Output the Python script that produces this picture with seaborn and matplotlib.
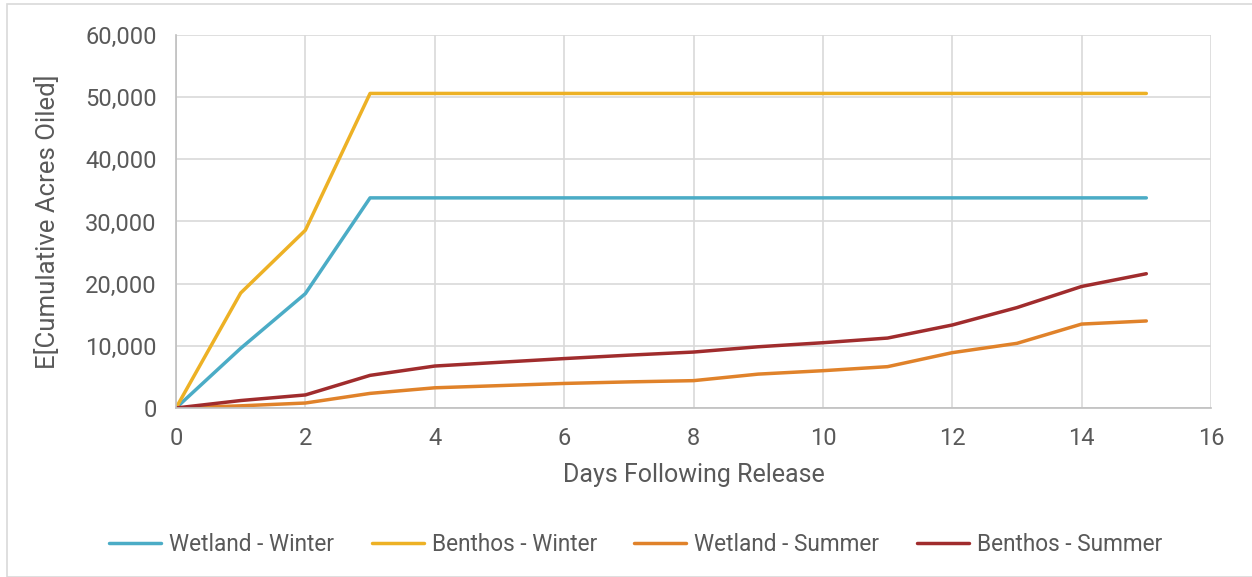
import pandas as pd
import seaborn as sns
import matplotlib.pyplot as plt
from matplotlib.patches import Rectangle

# Data
days = list(range(16))
wetland_winter = [0, 9600, 18400, 33800, 33800, 33800, 33800, 33800,
                  33800, 33800, 33800, 33800, 33800, 33800, 33800, 33800]
benthos_winter = [0, 18500, 28600, 50600, 50600, 50600, 50600, 50600,
                  50600, 50600, 50600, 50600, 50600, 50600, 50600, 50600]
wetland_summer = [0, 350, 800, 2350, 3250, 3600, 3950, 4200,
                  4400, 5450, 6000, 6650, 8900, 10400, 13500, 14000]
benthos_summer = [0, 1200, 2100, 5250, 6750, 7350, 7950, 8500,
                  9000, 9850, 10500, 11250, 13350, 16150, 19550, 21600]

series_names = ["Wetland - Winter", "Benthos - Winter", "Wetland - Summer", "Benthos - Summer"]
series_values = [wetland_winter, benthos_winter, wetland_summer, benthos_summer]
colors = ["#4BACC6", "#EDB125", "#E0822A", "#A02C2D"]

rows = []
for name, vals in zip(series_names, series_values):
    for d, v in zip(days, vals):
        rows.append({"Day": d, "Acres": v, "Series": name})
df = pd.DataFrame(rows)

sns.set_style("white")
plt.rcParams["font.family"] = ["Roboto", "DejaVu Sans"]
text_col = "#595959"

fig = plt.figure(figsize=(12.52, 5.77), dpi=100)
ax = fig.add_axes([176 / 1252, 1 - 408 / 577, (1211 - 176) / 1252, (408 - 35) / 577])

sns.lineplot(data=df, x="Day", y="Acres", hue="Series", hue_order=series_names,
             palette=colors, linewidth=2.5, ax=ax, legend=True)

ax.set_xlim(0, 16)
ax.set_ylim(0, 60000)
ax.set_xticks(range(0, 17, 2))
ax.set_yticks(range(0, 60001, 10000))
ax.set_yticklabels([f"{v:,}" for v in range(0, 60001, 10000)])
ax.grid(True, color="#D9D9D9", linewidth=1.2)
ax.set_axisbelow(True)
ax.tick_params(axis="both", length=0, labelsize=17, labelcolor=text_col)
ax.tick_params(axis="y", pad=14)
ax.tick_params(axis="x", pad=14)
for side in ["top", "right"]:
    ax.spines[side].set_visible(False)
for side in ["left", "bottom"]:
    ax.spines[side].set_color("#BFBFBF")
    ax.spines[side].set_linewidth(1.2)

ax.set_xlabel("Days Following Release", fontsize=18, color=text_col, labelpad=9)
ax.set_ylabel("E[Cumulative Acres Oiled]", fontsize=18.5, color=text_col)
ax.yaxis.set_label_coords(-0.112, 0.5)

handles, labels = ax.get_legend_handles_labels()
ax.legend(handles, labels, loc="center", bbox_to_anchor=(0.5 - 58 / 1035, -0.365),
          ncol=4, frameon=False, fontsize=16.3, labelcolor=text_col,
          handlelength=2.3, handletextpad=0.35, columnspacing=1.65)

# outer chart frame
fig.patches.append(Rectangle((7 / 1252, 0), 1.2, 1 - 4 / 577, transform=fig.transFigure,
                             fill=False, edgecolor="#D9D9D9", linewidth=1.2))

fig.savefig("out.png", dpi=100)
